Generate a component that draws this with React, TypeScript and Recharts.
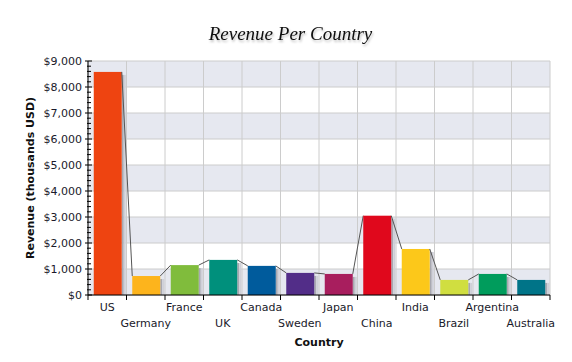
import React from 'react';
import { ComposedChart, Bar, XAxis, YAxis, CartesianGrid, Cell, Label } from 'recharts';

const countries = ['US', 'Germany', 'France', 'UK', 'Canada', 'Sweden', 'Japan', 'China', 'India', 'Brazil', 'Argentina', 'Australia'];
const revenue = [8580, 730, 1150, 1350, 1120, 850, 810, 3050, 1770, 580, 810, 580];
const barColors = ['#EE4411', '#FDB41C', '#80BC3C', '#00907C', '#005B9C', '#522D88', '#A81E5E', '#E0081C', '#FCC81A', '#D0DE40', '#009C5C', '#007488'];
const majorTicks = [0, 1000, 2000, 3000, 4000, 5000, 6000, 7000, 8000, 9000];
const minorTicks = Array.from({ length: 46 }, (_, i) => i * 200);
const Y_MAX = 9000;

const data = countries.map((country, i) => ({ country, revenue: revenue[i] }));

const W = 572;
const H = 362;
const PLOT_W = W - 88 - 22;
const STEP = PLOT_W / countries.length;
const FONT = '"DejaVu Sans", Verdana, sans-serif';
const TEXT = '#1a1a2a';

// bar plus its drop shadow and the connector to the next bar's top-left corner
const ShadowBar = (props: any) => {
  const { x, y, width, height, index, payload, fill } = props;
  if (height == null || width == null) return null;
  const bx = x + 0.75;
  const baseline = y + height;
  let connector = null;
  if (index < data.length - 1 && payload.revenue > 0) {
    const pxPerUnit = height / payload.revenue;
    const nx = bx + STEP;
    const ny = baseline - data[index + 1].revenue * pxPerUnit;
    connector = <line x1={bx + width} y1={y} x2={nx} y2={ny} stroke="#555" strokeWidth={1} />;
  }
  return (
    <g>
      <rect x={bx + width} y={y + 3} width={2} height={height - 3} fill="#a8a8b0" />
      <rect x={bx + width + 2} y={y + 3} width={2} height={height - 3} fill="#cfd0d8" />
      <rect x={bx} y={y} width={width} height={height} fill={fill} />
      {connector}
    </g>
  );
};

const RevenueTick = (props: any) => {
  const { x, y, payload } = props;
  const major = payload.value % 1000 === 0;
  return (
    <g>
      <line x1={major ? x - 3 : x - 1} y1={y} x2={major ? x + 4 : x + 3} y2={y} stroke="#000" />
      {major && (
        <text x={x - 6} y={y} dy="0.355em" textAnchor="end" fontSize={11} fontFamily={FONT} fill={TEXT}>
          {`$${payload.value.toLocaleString('en-US')}`}
        </text>
      )}
    </g>
  );
};

const CountryTick = (props: any) => {
  const { x, y, payload, index } = props;
  const row = index % 2 === 0 ? 0 : 1;
  return (
    <g>
      <line x1={x - STEP / 2} y1={y} x2={x - STEP / 2} y2={y + 5} stroke="#000" />
      {index === countries.length - 1 && (
        <line x1={x + STEP / 2} y1={y} x2={x + STEP / 2} y2={y + 5} stroke="#000" />
      )}
      <text x={x} y={y + 16 + row * 16} textAnchor="middle" fontSize={11} fontFamily={FONT} fill={TEXT}>
        {payload.value}
      </text>
    </g>
  );
};

const majorGridLines = ({ yAxis, offset }: any) =>
  majorTicks.map((v) =>
    yAxis && typeof yAxis.scale === 'function'
      ? yAxis.scale(v)
      : offset.top + offset.height * (1 - v / Y_MAX)
  );

export default function App() {
  return (
    <div style={{ position: 'absolute', left: 0, top: 0, width: W, height: H, background: '#fff' }}>
      <svg width={W} height={H} style={{ position: 'absolute', left: 0, top: 0, pointerEvents: 'none' }}>
        <defs>
          <filter id="ts" x="-10%" y="-30%" width="120%" height="160%">
            <feDropShadow dx="1" dy="2" stdDeviation="1.2" floodColor="#000" floodOpacity="0.25" />
          </filter>
        </defs>
        <text x={290.5} y={40} textAnchor="middle" fontSize={19} fontStyle="italic"
          fontFamily='"Liberation Serif", "Times New Roman", serif' fill="#111" filter="url(#ts)">
          Revenue Per Country
        </text>
      </svg>
      <ComposedChart width={W} height={H} data={data} margin={{ top: 61, right: 22, bottom: 27, left: 0 }}>
        <CartesianGrid
          stroke="#cccccc"
          horizontalFill={['#E6E8F0', '#FFFFFF']}
          horizontalCoordinatesGenerator={majorGridLines}
          verticalCoordinatesGenerator={({ offset }: any) =>
            Array.from({ length: countries.length + 1 }, (_, i) => offset.left + (i * offset.width) / countries.length)
          }
        />
        <YAxis
          domain={[0, Y_MAX]}
          ticks={minorTicks}
          width={88}
          interval={0}
          tickSize={0}
          tickMargin={0}
          tickLine={false}
          axisLine={{ stroke: '#000' }}
          tick={<RevenueTick />}
        >
          <Label
            content={({ viewBox }: any) => {
              const cx = viewBox.x + 34;
              const cy = viewBox.y + viewBox.height / 2;
              return (
                <text x={cx} y={cy} transform={`rotate(-90 ${cx} ${cy})`} textAnchor="middle"
                  fontSize={11} fontWeight="bold" fontFamily={FONT} fill="#111">
                  Revenue (thousands USD)
                </text>
              );
            }}
          />
        </YAxis>
        <XAxis
          dataKey="country"
          height={40}
          interval={0}
          tickSize={0}
          tickMargin={0}
          tickLine={false}
          axisLine={{ stroke: '#000' }}
          tick={<CountryTick />}
        >
          <Label
            content={({ viewBox }: any) => (
              <text x={viewBox.x + viewBox.width / 2} y={viewBox.y + 51} textAnchor="middle"
                fontSize={11} fontWeight="bold" fontFamily={FONT} fill="#111">
                Country
              </text>
            )}
          />
        </XAxis>
        <Bar dataKey="revenue" barSize={28} shape={<ShadowBar />} isAnimationActive={false}>
          {data.map((d, i) => (
            <Cell key={d.country} fill={barColors[i]} />
          ))}
        </Bar>
      </ComposedChart>
    </div>
  );
}
